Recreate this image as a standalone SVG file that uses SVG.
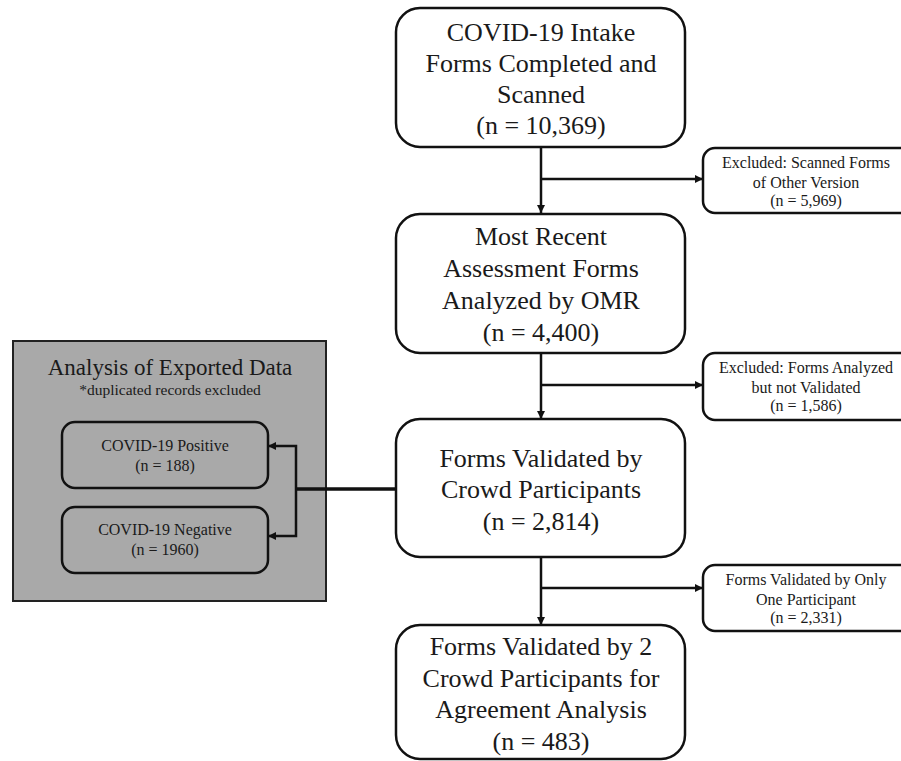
<svg xmlns="http://www.w3.org/2000/svg" width="901" height="761" viewBox="0 0 901 761">
<style>
  text{font-family:'Liberation Serif','Times New Roman',Tinos,Times,serif;fill:#1a1a1a;text-anchor:middle}
  .box{fill:#ffffff;stroke:#111;stroke-width:2.5}
  .ibox{fill:none;stroke:#111;stroke-width:2.5}
  .panel{fill:#a9a9a9;stroke:#222;stroke-width:2}
  .big{font-size:26px}
  .sm{font-size:16px}
  .mid{font-size:16px}
  .sub{font-size:15.5px}
  .ttl{font-size:23px}
  .ln{fill:none;stroke:#111;stroke-width:2.5}
  .thick{fill:none;stroke:#111;stroke-width:3.5}
</style>
<defs>
  <marker id="arr" markerWidth="10" markerHeight="10" refX="8" refY="4" orient="auto" markerUnits="userSpaceOnUse">
    <path d="M0,0 L8,4 L0,8 Z" fill="#111"/>
  </marker>
</defs>
<rect width="901" height="761" fill="#ffffff"/>

<g id="panel">
  <rect class="panel" x="13" y="341" width="313" height="260"/>
  <text class="ttl" x="170" y="375">Analysis of Exported Data</text>
  <text class="sub" x="170" y="395">*duplicated records excluded</text>
</g>

<g id="positive">
  <rect class="ibox" x="62" y="422" width="206" height="66" rx="13"/>
  <text class="mid" x="165" y="451">COVID-19 Positive</text>
  <text class="mid" x="165" y="471">(n = 188)</text>
</g>
<g id="negative">
  <rect class="ibox" x="62" y="507" width="206" height="66" rx="13"/>
  <text class="mid" x="165" y="535">COVID-19 Negative</text>
  <text class="mid" x="165" y="555">(n = 1960)</text>
</g>

<g id="connectors">
  <line class="ln" x1="541" y1="147" x2="541" y2="213" marker-end="url(#arr)"/>
  <line class="ln" x1="541" y1="179" x2="703" y2="179" marker-end="url(#arr)"/>
  <line class="ln" x1="541" y1="353" x2="541" y2="419" marker-end="url(#arr)"/>
  <line class="ln" x1="541" y1="385" x2="703" y2="385" marker-end="url(#arr)"/>
  <line class="ln" x1="541" y1="557" x2="541" y2="625" marker-end="url(#arr)"/>
  <line class="ln" x1="541" y1="588" x2="703" y2="588" marker-end="url(#arr)"/>
  <line class="thick" x1="396" y1="489" x2="296" y2="489"/>
  <polyline class="ln" points="296,489 296,446 268,446" marker-end="url(#arr)"/>
  <polyline class="ln" points="296,489 296,536 268,536" marker-end="url(#arr)"/>
</g>

<g id="intake">
  <rect class="box" x="396" y="8" width="289" height="139" rx="24"/>
  <text class="big" x="541" y="41">COVID-19 Intake</text>
  <text class="big" x="541" y="72">Forms Completed and</text>
  <text class="big" x="541" y="103">Scanned</text>
  <text class="big" x="541" y="134">(n = 10,369)</text>
</g>

<g id="excluded1">
  <rect class="box" x="703" y="148" width="210" height="65" rx="12"/>
  <text class="sm" x="806" y="168">Excluded: Scanned Forms</text>
  <text class="sm" x="806" y="188">of Other Version</text>
  <text class="sm" x="806" y="206">(n = 5,969)</text>
</g>

<g id="omr">
  <rect class="box" x="396" y="214" width="289" height="139" rx="24"/>
  <text class="big" x="541" y="245">Most Recent</text>
  <text class="big" x="541" y="277">Assessment Forms</text>
  <text class="big" x="541" y="309">Analyzed by OMR</text>
  <text class="big" x="541" y="341">(n = 4,400)</text>
</g>

<g id="excluded2">
  <rect class="box" x="703" y="353" width="210" height="67" rx="12"/>
  <text class="sm" x="806" y="373">Excluded: Forms Analyzed</text>
  <text class="sm" x="806" y="393">but not Validated</text>
  <text class="sm" x="806" y="411">(n = 1,586)</text>
</g>

<g id="validated">
  <rect class="box" x="396" y="419" width="289" height="138" rx="24"/>
  <text class="big" x="541" y="467">Forms Validated by</text>
  <text class="big" x="541" y="498">Crowd Participants</text>
  <text class="big" x="541" y="530">(n = 2,814)</text>
</g>

<g id="excluded3">
  <rect class="box" x="703" y="565" width="210" height="66" rx="12"/>
  <text class="sm" x="806" y="585">Forms Validated by Only</text>
  <text class="sm" x="806" y="605">One Participant</text>
  <text class="sm" x="806" y="623">(n = 2,331)</text>
</g>

<g id="agreement">
  <rect class="box" x="396" y="625" width="289" height="134" rx="24"/>
  <text class="big" x="541" y="655">Forms Validated by 2</text>
  <text class="big" x="541" y="687">Crowd Participants for</text>
  <text class="big" x="541" y="718">Agreement Analysis</text>
  <text class="big" x="541" y="750">(n = 483)</text>
</g>
</svg>
